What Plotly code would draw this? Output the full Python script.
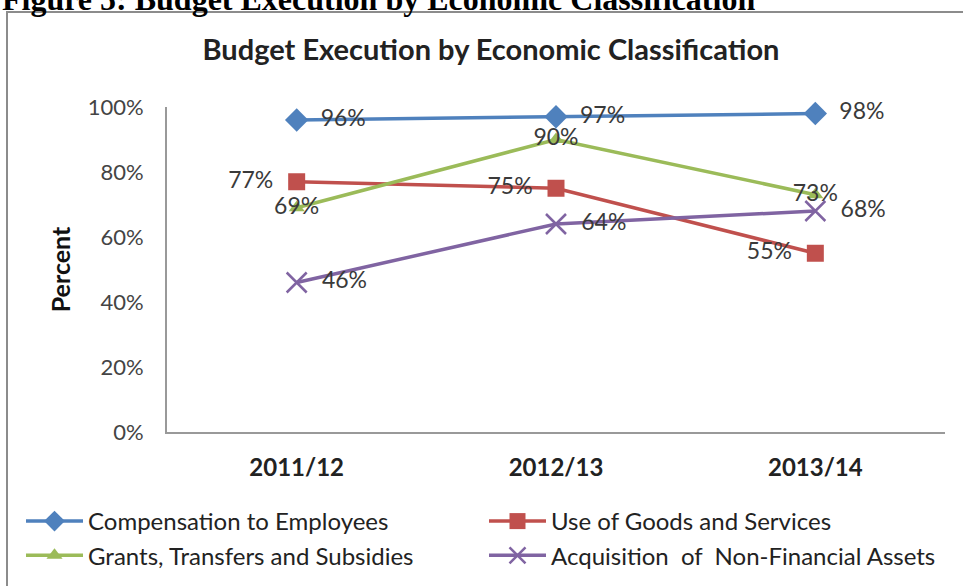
import plotly.graph_objects as go

years = ["2011/12", "2012/13", "2013/14"]
compensation = [0.96, 0.97, 0.98]
goods_services = [0.77, 0.75, 0.55]
grants = [0.69, 0.90, 0.73]
acquisition = [0.46, 0.64, 0.68]
y_ticks = [0, 0.2, 0.4, 0.6, 0.8, 1.0]
y_tick_labels = ["0%", "20%", "40%", "60%", "80%", "100%"]

W, H = 963, 586
L, R, T, B = 167, 18, 107, 154
PW, PH = W - L - R, H - T - B

def px_x(p):
    return (p - L) / PW

def px_y(p):
    return (H - B - p) / PH

PAD = "\u00a0\u00a0"

def pct(vals, side):
    out = []
    for v in vals:
        s = f"{round(v*100)}%"
        if side == "right":
            s = PAD + s
        elif side == "left":
            s = s + PAD
        out.append(s)
    return out

FONT = "Lato, Open Sans, sans-serif"
label_font = dict(family=FONT, size=23, color="#3a3a3a")

fig = go.Figure()
series = [
    ("Compensation to Employees", compensation, "#4F81BD", dict(symbol="diamond", size=18), "middle right", "right", "legend"),
    ("Use of Goods and Services", goods_services, "#C0504D", dict(symbol="square", size=17), "middle left", "left", "legend2"),
    ("Grants, Transfers and Subsidies", grants, "#9BBB59", dict(symbol="triangle-up", size=14), "middle center", "center", "legend"),
    ("Acquisition  of  Non-Financial Assets", acquisition, "#8064A2", dict(symbol="x-thin", size=20, line=dict(width=2.5, color="#8064A2")), "middle right", "right", "legend2"),
]
for name, vals, col, mk, tpos, side, lg in series:
    mk = dict(mk)
    mk["color"] = col
    fig.add_trace(go.Scatter(
        x=years, y=vals, name=name, mode="lines+markers+text",
        line=dict(color=col, width=3.5), marker=mk,
        text=pct(vals, side), textposition=tpos, textfont=label_font,
        cliponaxis=False, legend=lg, legendgroup=name,
    ))

legend_common = dict(
    orientation="v", xanchor="left", yanchor="top", itemwidth=57,
    font=dict(family=FONT, size=24, color="#222"),
    tracegroupgap=0, traceorder="grouped", bgcolor="rgba(0,0,0,0)",
    y=px_y(499),
)

fig.update_layout(
    width=W, height=H,
    margin=dict(l=L, r=R, t=T, b=B, autoexpand=False),
    paper_bgcolor="white", plot_bgcolor="white",
    showlegend=True,
    legend=dict(x=px_x(21), **legend_common),
    legend2=dict(x=px_x(484), **legend_common),
    xaxis=dict(
        type="category", range=[-0.5, 2.5], showgrid=False, showline=True,
        linecolor="#999", linewidth=2, ticks="",
        tickfont=dict(family=FONT, size=24, color="#222", weight="bold"),
        ticklabelstandoff=13,
    ),
    yaxis=dict(
        range=[0, 1], tickvals=y_ticks, ticktext=y_tick_labels, showgrid=False,
        showline=True, linecolor="#999", linewidth=2, ticks="", zeroline=False,
        tickfont=dict(family=FONT, size=22, color="#444"),
        ticklabelstandoff=17,
        title=dict(text="Percent", font=dict(family=FONT, size=25, color="#111", weight="bold"), standoff=10),
    ),
    title=dict(
        text="Budget Execution by Economic Classification",
        font=dict(family=FONT, size=29, color="#222", weight="bold"),
        x=491 / W, xanchor="center", y=1 - 50 / H, yanchor="middle",
    ),
)

# chart frame
fig.add_shape(type="rect", xref="paper", yref="paper",
              x0=px_x(7), x1=1.2, y0=-1, y1=px_y(12),
              line=dict(color="#8c8c8c", width=2), fillcolor="rgba(0,0,0,0)", layer="below")

fig.add_annotation(
    text="Figure 5: Budget Execution by Economic Classification",
    xref="paper", yref="paper", x=px_x(0), xanchor="left",
    y=px_y(19), yanchor="bottom", showarrow=False,
    font=dict(family="Liberation Serif, Times New Roman, serif", size=32, color="#000", weight="bold"),
)

fig.write_html("out.html")
